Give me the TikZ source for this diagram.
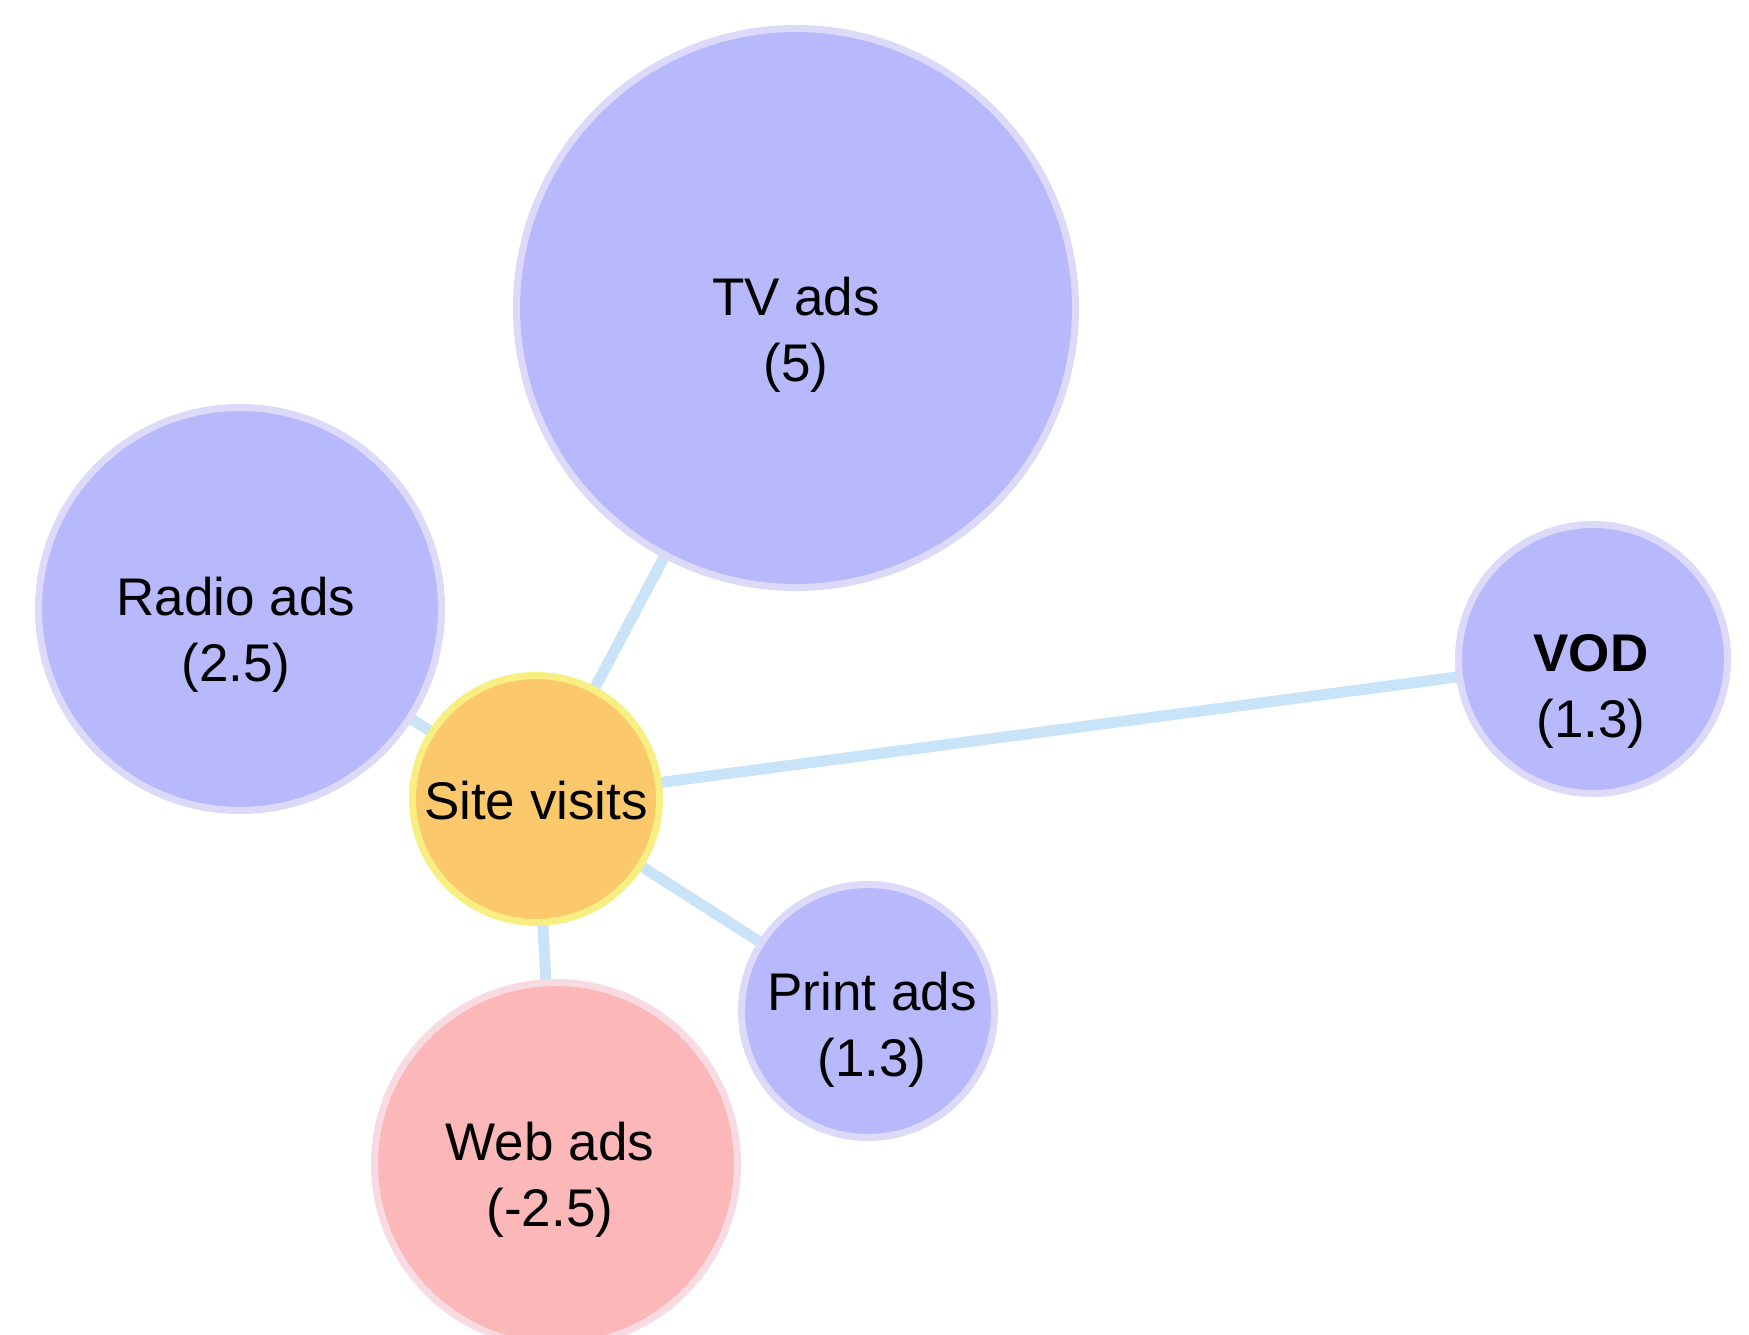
\documentclass[tikz,border=0pt]{standalone}
\usepackage{fontspec}
\setmainfont{Liberation Sans}
\usetikzlibrary{backgrounds}
\definecolor{blubfill}{HTML}{B8B8FC}
\definecolor{blubline}{HTML}{DCDAF8}
\definecolor{webfill}{HTML}{FCB8B8}
\definecolor{webline}{HTML}{F8DAE2}
\definecolor{sitefill}{HTML}{FBC96C}
\definecolor{siteline}{HTML}{F7EF82}
\definecolor{edgecol}{HTML}{C9E4F9}
\tikzset{
  bubble/.style={circle, draw=blubline, fill=blubfill, line width=7pt, inner sep=0pt},
  webbubble/.style={bubble, draw=webline, fill=webfill},
  sitebubble/.style={bubble, draw=siteline, fill=sitefill},
  lbl/.style={align=center, inner sep=0pt, font=\fontsize{53}{66}\selectfont},
  conn/.style={draw=edgecol, line width=11pt},
}
\begin{document}
\begin{tikzpicture}[x=1pt, y=-1pt]
\useasboundingbox (0,0) rectangle (1749,1335);
\clip (0,0) rectangle (1749,1335);
\node[bubble, minimum size=559pt] (tv) at (796,308) {};
\node[bubble, minimum size=403pt] (radio) at (240,609) {};
\node[bubble, minimum size=269pt] (vod) at (1593,659) {};
\node[bubble, minimum size=253pt] (print) at (868,1011) {};
\node[webbubble, minimum size=363pt] (web) at (556,1164) {};
\node[sitebubble, minimum size=247pt] (site) at (536,799) {};
\node[lbl] (tvl) at (796,335) {TV ads\\(5)};
\node[lbl] (radiol) at (236,635) {Radio ads\\(2.5)};
\node[lbl] (vodl) at (1591,691) {\textbf{VOD}\\(1.3)};
\node[lbl] (printl) at (872,1030) {Print ads\\(1.3)};
\node[lbl] (webl) at (550,1180) {Web ads\\(-2.5)};
\node[lbl] (sitel) at (536,801) {Site visits};
\begin{scope}[on background layer]
\fill[white] (0,0) rectangle (1749,1335);
\draw[conn] (site.center) -- (tv.center);
\draw[conn] (site.center) -- (radio.center);
\draw[conn] (site.center) -- (vod.center);
\draw[conn] (site.center) -- (print.center);
\draw[conn] (site.center) -- (web.center);
\end{scope}
\end{tikzpicture}
\end{document}
